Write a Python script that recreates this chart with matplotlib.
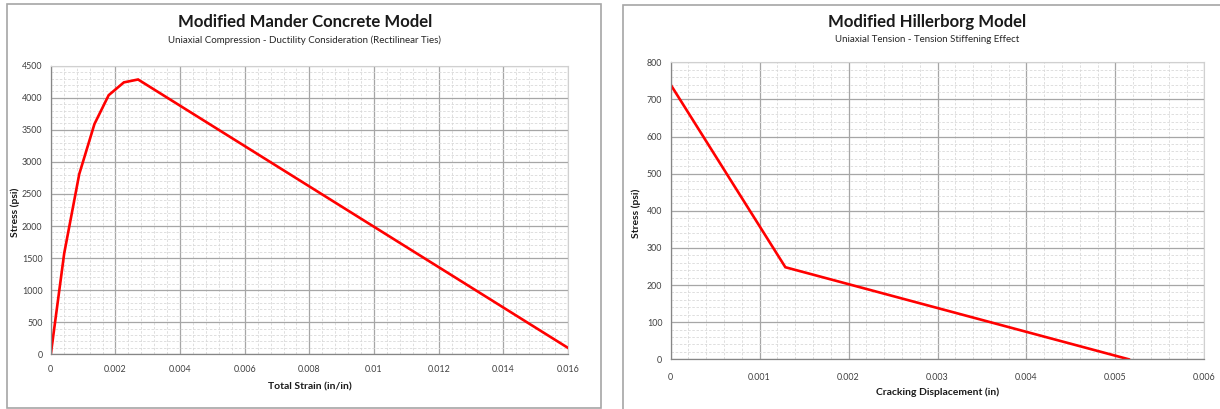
import matplotlib
matplotlib.use("Agg")
import matplotlib.pyplot as plt
from matplotlib.patches import Rectangle
from matplotlib.ticker import MultipleLocator, FuncFormatter

plt.rcParams["font.family"] = ["Lato", "DejaVu Sans"]

# ==========================================
# DATA
# ==========================================

mander_strain = [0, 0.000415, 0.00088, 0.00135, 0.00179, 0.00226, 0.0027, 0.016]
mander_stress = [0, 1575, 2810, 3590, 4040, 4240, 4285, 100]

hillerborg_disp = [0, 0.00129, 0.00515]
hillerborg_stress = [740, 248, 0]

mander_x_ticks = [0, 0.002, 0.004, 0.006, 0.008, 0.01, 0.012, 0.014, 0.016]
mander_y_ticks = [0, 500, 1000, 1500, 2000, 2500, 3000, 3500, 4000, 4500]

hillerborg_x_ticks = [0, 0.001, 0.002, 0.003, 0.004, 0.005, 0.006]
hillerborg_y_ticks = [0, 100, 200, 300, 400, 500, 600, 700, 800]

W = 1220
H = 409

fig = plt.figure(
    figsize=(W / 100, H / 100),
    dpi=100
)


def px(x, y):
    return x / W, 1 - y / H


def fmt(v, pos):
    if v == 0:
        return "0"
    return ("%g" % v)


# ==========================================
# PANEL FRAMES
# ==========================================

fig.add_artist(
    Rectangle(
        px(7, 408), (601 - 7) / W, (408 - 4) / H,
        transform=fig.transFigure,
        fill=False, edgecolor="#a6a6a6", linewidth=1.2
    )
)

fig.add_artist(
    Rectangle(
        px(623, 420), (1230 - 623) / W, (420 - 5) / H,
        transform=fig.transFigure,
        fill=False, edgecolor="#a6a6a6", linewidth=1.2
    )
)


def style_axes(ax, xminor, yminor, xticks, yticks, xpad):

    ax.set_xticks(xticks)
    ax.set_yticks(yticks)
    ax.xaxis.set_minor_locator(MultipleLocator(xminor))
    ax.yaxis.set_minor_locator(MultipleLocator(yminor))
    ax.xaxis.set_major_formatter(FuncFormatter(fmt))

    ax.grid(
        which="major",
        color="#a6a6a6",
        linewidth=0.9
    )

    ax.grid(
        which="minor",
        color="#d9d9d9",
        linewidth=0.6,
        linestyle=(0, (3, 2))
    )

    ax.set_axisbelow(True)

    for side in ["left", "bottom"]:
        ax.spines[side].set_color("#868686")
        ax.spines[side].set_linewidth(0.9)

    for side in ["top", "right"]:
        ax.spines[side].set_color("#d0d0d0")
        ax.spines[side].set_linewidth(0.8)

    ax.tick_params(
        which="both",
        length=0,
        labelsize=6.4,
        colors="#404040"
    )
    ax.tick_params(axis="y", pad=6)
    ax.tick_params(axis="x", pad=xpad)


# ==========================================
# MANDER
# ==========================================

ax1 = fig.add_axes([
    50.8 / W,
    (H - 354.3) / H,
    (568 - 50.8) / W,
    (354.3 - 65.7) / H
])

ax1.plot(
    mander_strain,
    mander_stress,
    color="#ff0000",
    linewidth=1.9,
    solid_joinstyle="miter"
)

ax1.set_xlim(0, 0.016)
ax1.set_ylim(0, 4500)

style_axes(ax1, 0.0004, 100, mander_x_ticks, mander_y_ticks, 8)

fig.text(*px(305, 22), "Modified Mander Concrete Model",
         ha="center", va="center", fontsize=12.1, fontweight="bold",
         color="#1a1a1a")
fig.text(*px(305, 40), "Uniaxial Compression - Ductility Consideration (Rectilinear Ties)",
         ha="center", va="center", fontsize=7.0, color="#262626")
fig.text(*px(310, 387), "Total Strain (in/in)",
         ha="center", va="center", fontsize=7.5, fontweight="bold",
         color="#1a1a1a")
fig.text(*px(15, 212), "Stress (psi)", rotation=90,
         ha="center", va="center", fontsize=7.5, fontweight="bold",
         color="#1a1a1a")

# ==========================================
# HILLERBORG
# ==========================================

ax2 = fig.add_axes([
    670.6 / W,
    (H - 359.3) / H,
    (1204.4 - 670.6) / W,
    (359.3 - 62.3) / H
])

ax2.plot(
    hillerborg_disp,
    hillerborg_stress,
    color="#ff0000",
    linewidth=1.9,
    solid_joinstyle="miter"
)

ax2.set_xlim(0, 0.006)
ax2.set_ylim(0, 800)

style_axes(ax2, 0.0002, 20, hillerborg_x_ticks, hillerborg_y_ticks, 10)

fig.text(*px(927, 22), "Modified Hillerborg Model",
         ha="center", va="center", fontsize=12.1, fontweight="bold",
         color="#1a1a1a")
fig.text(*px(927, 40), "Uniaxial Tension - Tension Stiffening Effect",
         ha="center", va="center", fontsize=7.0, color="#262626")
fig.text(*px(938, 392), "Cracking Displacement (in)",
         ha="center", va="center", fontsize=7.5, fontweight="bold",
         color="#1a1a1a")
fig.text(*px(636, 213), "Stress (psi)", rotation=90,
         ha="center", va="center", fontsize=7.5, fontweight="bold",
         color="#1a1a1a")

fig.savefig("out.png", dpi=100)
